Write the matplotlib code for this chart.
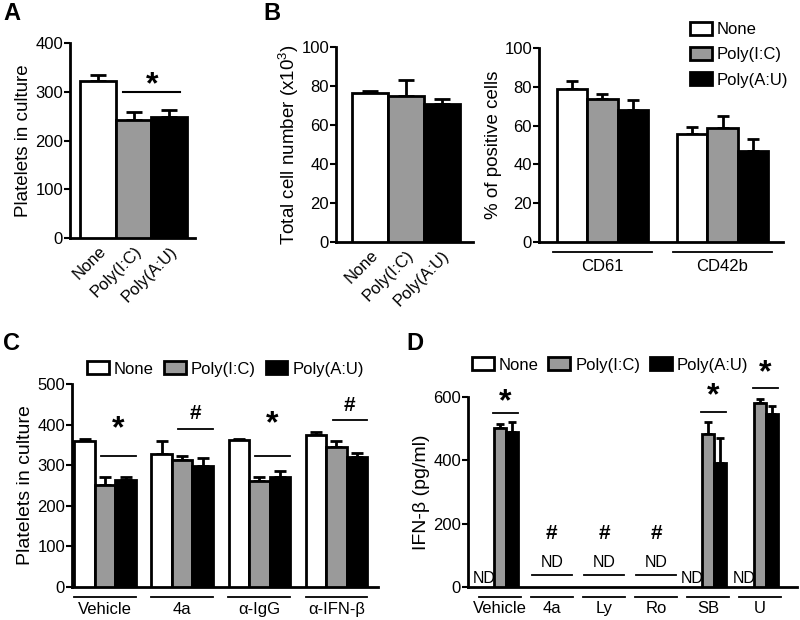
import numpy as np
import matplotlib
matplotlib.use("Agg")
import matplotlib.pyplot as plt

plt.rcParams["font.family"] = ["Liberation Sans", "DejaVu Sans"]
plt.rcParams["mathtext.fontset"] = "custom"
plt.rcParams["mathtext.rm"] = "Liberation Sans"
plt.rcParams["font.size"] = 12

# ---- data ----
treatments = ["None", "Poly(I:C)", "Poly(A:U)"]
fills = ["white", "#9a9a9a", "black"]

# A: platelets in culture
a_mean = [322, 243, 248]
a_err = [12, 15, 15]

# B left: total cell number (x10^3)
b_total_mean = [76.5, 75, 71]
b_total_err = [1, 8, 2.5]

# B right: % of positive cells
b_markers = ["CD61", "CD42b"]
b_none = [79, 55.5]
b_none_err = [4, 4]
b_ic = [73.5, 58.5]
b_ic_err = [3, 6.5]
b_au = [68, 47]
b_au_err = [5, 6]

# C: platelets in culture by treatment
c_groups = ["Vehicle", "4a", "α-IgG", "α-IFN-β"]
c_none = [360, 328, 362, 374]
c_none_err = [4, 31, 3, 8]
c_ic = [251, 314, 260, 345]
c_ic_err = [19, 8, 12, 15]
c_au = [263, 297, 270, 321]
c_au_err = [9, 21, 15, 10]
c_sig = ["*", "#", "*", "#"]
c_sig_line = [322, 390, 322, 412]
c_sig_mark = [388, 428, 401, 447]

# D: IFN-beta (pg/ml); nan = not detected
d_groups = ["Vehicle", "4a", "Ly", "Ro", "SB", "U"]
d_none = [np.nan] * 6
d_ic = [501, np.nan, np.nan, np.nan, 483, 581]
d_ic_err = [13, 0, 0, 0, 39, 13]
d_au = [490, np.nan, np.nan, np.nan, 393, 546]
d_au_err = [32, 0, 0, 0, 77, 26]
d_sig = ["*", "#", "#", "#", "*", "*"]
d_sig_line = [548, 39, 39, 39, 554, 629]
d_sig_mark = [582, 168, 168, 168, 602, 676]

LW = 2.0
STAR = 23
HASH = 15


def style(ax, ylim, yticks):
    ax.set_ylim(*ylim)
    ax.set_yticks(yticks)
    for s in ("top", "right"):
        ax.spines[s].set_visible(False)
    for s in ("left", "bottom"):
        ax.spines[s].set_linewidth(LW)
    ax.tick_params(axis="y", direction="out", length=4, width=1.5, labelsize=12, pad=1)
    ax.tick_params(axis="x", length=0)


def bars(ax, x, vals, errs, color, width, capsize=4):
    vals = np.asarray(vals, float)
    ok = ~np.isnan(vals)
    x = np.asarray(x, float)[ok]
    v = vals[ok]
    e = np.asarray(errs, float)[ok]
    ax.errorbar(x, v, yerr=[np.zeros_like(e), e], fmt="none", ecolor="black",
                elinewidth=LW, capsize=capsize, capthick=LW, zorder=2)
    return ax.bar(x, v, width, color=color, edgecolor="black", linewidth=LW, zorder=3)


def underline(ax, centers, labels, half, yfrac, pad):
    tr = ax.get_xaxis_transform()
    for c in centers:
        ax.plot([c - half, c + half], [yfrac, yfrac], color="black", lw=1.3,
                transform=tr, clip_on=False)
    ax.set_xticks(centers, labels)
    ax.tick_params(axis="x", pad=pad, labelsize=12)


fig = plt.figure(figsize=(8, 6.2), dpi=100)

# ---- A ----
axA = fig.add_axes([0.0875, 0.6161, 0.15625, 0.3145])
for i in range(3):
    bars(axA, [i], [a_mean[i]], [a_err[i]], fills[i], 1.0, capsize=6)
style(axA, (0, 400), [0, 100, 200, 300, 400])
axA.set_xlim(-0.78, 2.72)
axA.set_xticks(range(3), treatments, rotation=45, ha="right", rotation_mode="anchor")
axA.tick_params(axis="x", pad=4, labelsize=12)
axA.set_ylabel("Platelets in culture", fontsize=13.5, labelpad=2)
axA.plot([0.7, 2.3], [300, 300], color="black", lw=1.5)
axA.text(1.52, 314, "*", ha="center", va="center", fontsize=STAR, fontweight="bold")

# ---- B left ----
axB1 = fig.add_axes([0.42, 0.6097, 0.17125, 0.3145])
for i in range(3):
    bars(axB1, [i], [b_total_mean[i]], [b_total_err[i]], fills[i], 1.0, capsize=6)
style(axB1, (0, 100), [0, 20, 40, 60, 80, 100])
axB1.set_xlim(-0.94, 2.86)
axB1.set_xticks(range(3), treatments, rotation=45, ha="right", rotation_mode="anchor")
axB1.tick_params(axis="x", pad=4, labelsize=12)
axB1.set_ylabel("Total cell number (x10$^{3}$)", fontsize=13.5, labelpad=0)

# ---- B right ----
axB2 = fig.add_axes([0.67375, 0.6097, 0.305, 0.3129])
wb = 0.2525
xb = np.arange(len(b_markers))
hb = [bars(axB2, xb - wb, b_none, b_none_err, fills[0], wb, 4),
      bars(axB2, xb, b_ic, b_ic_err, fills[1], wb, 4),
      bars(axB2, xb + wb, b_au, b_au_err, fills[2], wb, 4)]
style(axB2, (0, 100), [0, 20, 40, 60, 80, 100])
axB2.set_xlim(-0.529, 1.504)
underline(axB2, xb, b_markers, 0.41, -0.052, 12)
axB2.set_ylabel("% of positive cells", fontsize=13.5, labelpad=2)
axB2.legend(hb, treatments, loc="upper left", bbox_to_anchor=(0.62, 1.134),
            frameon=False, fontsize=12, handlelength=1.3, handleheight=0.85,
            handletextpad=0.3, labelspacing=0.58, borderpad=0, borderaxespad=0)

# ---- C ----
axC = fig.add_axes([0.09, 0.0532, 0.3825, 0.3274])
wc = 0.266
xc = np.arange(len(c_groups))
hc = [bars(axC, xc - wc, c_none, c_none_err, fills[0], wc, 4),
      bars(axC, xc, c_ic, c_ic_err, fills[1], wc, 4),
      bars(axC, xc + wc, c_au, c_au_err, fills[2], wc, 4)]
style(axC, (0, 500), [0, 100, 200, 300, 400, 500])
axC.set_xlim(-0.43, 3.54)
underline(axC, xc, c_groups, 0.4, -0.049, 11)
axC.set_ylabel("Platelets in culture", fontsize=14, labelpad=2)
for i in range(len(c_groups)):
    axC.plot([i - 0.05, i + 0.4], [c_sig_line[i]] * 2, color="black", lw=1.3)
    fs = STAR if c_sig[i] == "*" else HASH
    axC.text(i + 0.17, c_sig_mark[i], c_sig[i], ha="center", va="center",
             fontsize=fs, fontweight="bold")
axC.legend(hc, treatments, ncol=3, loc="center left", bbox_to_anchor=(0.05, 1.074),
           frameon=False, fontsize=12, handlelength=1.3, handleheight=0.8,
           handletextpad=0.3, columnspacing=0.6, borderpad=0, borderaxespad=0)

# ---- D ----
axD = fig.add_axes([0.585, 0.0532, 0.41125, 0.3065])
wd = 0.23
xd = np.arange(len(d_groups))
bars(axD, xd - wd, d_none, [0] * 6, fills[0], wd, 3)
bars(axD, xd, d_ic, d_ic_err, fills[1], wd, 3)
bars(axD, xd + wd, d_au, d_au_err, fills[2], wd, 3)
style(axD, (0, 600), [0, 200, 400, 600])
axD.set_xlim(-0.613, 5.71)
underline(axD, xd, d_groups, 0.4, -0.053, 10)
axD.set_ylabel("IFN-β (pg/ml)", fontsize=14, labelpad=2)
nd_font = dict(fontsize=11.5, family=["Liberation Sans Narrow", "Liberation Sans"])
for i in range(len(d_groups)):
    if np.isnan(d_ic[i]):
        axD.plot([i - 0.38, i + 0.38], [d_sig_line[i]] * 2, color="black", lw=1.3)
        axD.text(i, 78, "ND", ha="center", va="center", **nd_font)
        axD.text(i, d_sig_mark[i], d_sig[i], ha="center", va="center",
                 fontsize=HASH, fontweight="bold")
    else:
        axD.plot([i - 0.14, i + 0.35], [d_sig_line[i]] * 2, color="black", lw=1.3,
                 clip_on=False)
        axD.text(i + 0.1, d_sig_mark[i], d_sig[i], ha="center", va="center",
                 fontsize=STAR, fontweight="bold", clip_on=False)
        axD.text(i - 0.31, 28, "ND", ha="center", va="center", **nd_font)
# legend for D reuses C's patches (same styling)
axD.legend(hc, treatments, ncol=3, loc="center left", bbox_to_anchor=(0.012, 1.168),
           frameon=False, fontsize=12, handlelength=1.3, handleheight=0.8,
           handletextpad=0.3, columnspacing=0.6, borderpad=0, borderaxespad=0)

# panel letters
for letter, x, y in [("A", 12, 13), ("B", 272, 14), ("C", 11, 344), ("D", 415, 344)]:
    fig.text(x / 800, 1 - y / 620, letter, ha="center", va="center",
             fontsize=17, fontweight="bold")

fig.savefig("out.png", dpi=100)
